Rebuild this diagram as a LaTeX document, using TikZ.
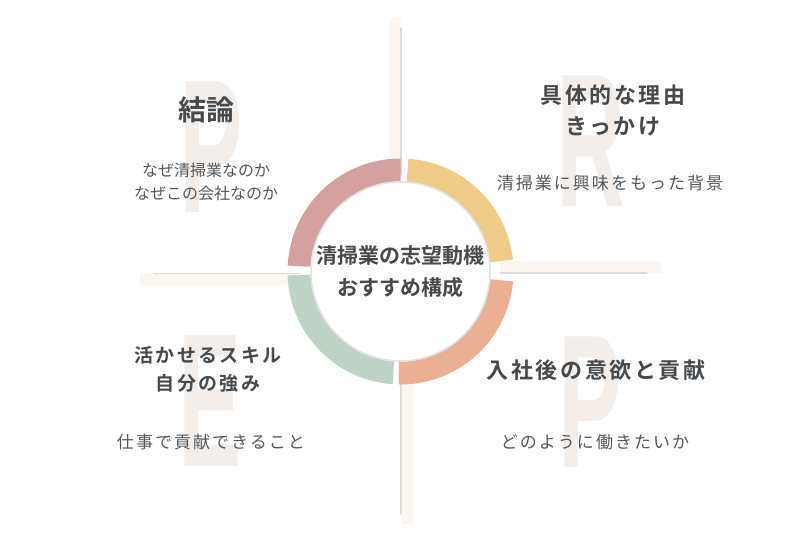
\documentclass[tikz,border=0pt]{standalone}
\usepackage{fontspec}
\newfontfamily\jpfont{Noto Sans CJK JP}[BoldFont={Noto Sans CJK JP Bold}]
\newfontfamily\jpwide{Noto Sans CJK JP}[BoldFont={Noto Sans CJK JP Bold},LetterSpace=12]
\newfontfamily\letterfont{Liberation Sans}
\usetikzlibrary{positioning,calc}

\definecolor{headc}{HTML}{464A4D}
\definecolor{subc}{HTML}{55585B}
\definecolor{letterc}{HTML}{F3EEEA}
\definecolor{barc}{HTML}{FBF6F0}
\definecolor{ringp}{HTML}{D4A19F}
\definecolor{ringy}{HTML}{EECB87}
\definecolor{rings}{HTML}{EBAF94}
\definecolor{ringg}{HTML}{BDD3C6}

\tikzset{
  bigletter/.style={text=letterc,font=\letterfont\bfseries\fontsize{190}{190}\selectfont,inner sep=0},
  head/.style={text=headc,font=\jpwide\bfseries\fontsize{22}{31}\selectfont,align=center,inner sep=0},
  subline/.style={text=subc,font=\jpwide\fontsize{17}{23}\selectfont,align=center,inner sep=0},
  bar/.style={fill=barc},
  barshadow/.style={draw=gray!28,line width=1.6pt,line cap=round}
}

\begin{document}
\begin{tikzpicture}[x=1pt,y=-1pt]
\useasboundingbox[fill=white] (0,0) rectangle (800,540);

% P R E P
\node[bigletter] (letterP) at (211,147.5) {\scalebox{0.5}[1]{P}};
\node[bigletter] (letterR) at (591,141.5) {\scalebox{0.5}[1]{R}};
\node[bigletter] (letterE) at (210.5,401.5) {\scalebox{0.5}[1]{E}};
\node[bigletter] (letterQ) at (590,402.5) {\scalebox{0.5}[1]{P}};

% bars
\fill[bar] (389,18) rectangle (401,175);
\fill[bar] (401,368) rectangle (413,524);
\fill[bar] (140,273) rectangle (300,285);
\fill[bar] (500,261) rectangle (662,273);
\draw[barshadow] (401,28) -- (401,175);
\draw[barshadow] (401,368) -- (401,514);
\draw[barshadow] (155,273.5) -- (300,273.5);
\draw[barshadow] (500,273) -- (647,273);

% ring
\coordinate (hub) at (400.5,271.5);
\foreach \col/\a/\b in {rings/5/91, ringg/94/178, ringp/183/270, ringy/274/354}
  \fill[\col] ($(hub)+(\a:113)$) arc[start angle=\a,end angle=\b,radius=113]
    -- ($(hub)+(\b:90)$) arc[start angle=\b,end angle=\a,radius=90] -- cycle;
\fill[white] (hub) circle (90);
\draw[gray!22,line width=1.5pt] (hub) circle (89.5);

\node[text=headc,font=\jpfont\bfseries\fontsize{21}{32}\selectfont,align=center,inner sep=0]
  (theme) at (hub) {清掃業の志望動機\\おすすめ構成};

% texts
\node[head,font=\jpfont\bfseries\fontsize{28}{30}\selectfont] (pointA) at (206,110) {結論};
\node[subline,font=\jpfont\fontsize{16}{23}\selectfont] (pointAtext) at (206,181.5) {なぜ清掃業なのか\\なぜこの会社なのか};

\node[head] (reason) at (613,110.5) {具体的な理由\\きっかけ};
\node[subline] (reasontext) at (610,183) {清掃業に興味をもった背景};

\node[head,font=\jpwide\bfseries\fontsize{19}{28}\selectfont] (example) at (208,369) {活かせるスキル\\自分の強み};
\node[subline] (exampletext) at (211,442) {仕事で貢献できること};

\node[head] (pointB) at (596,370) {入社後の意欲と貢献};
\node[subline] (pointBtext) at (595,442) {どのように働きたいか};
\end{tikzpicture}
\end{document}
